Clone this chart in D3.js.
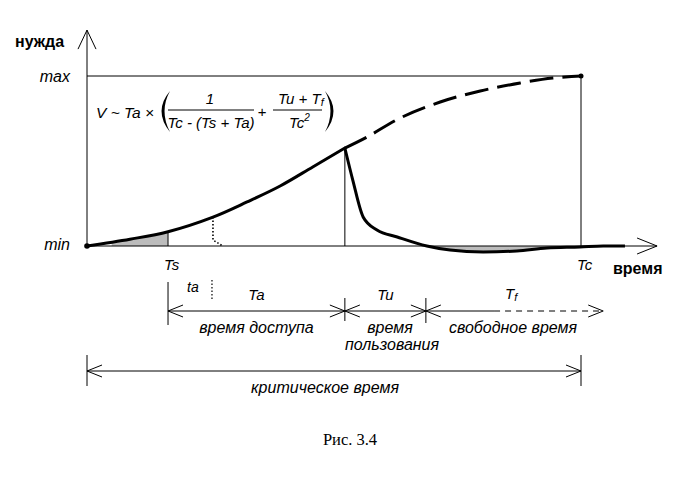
<!DOCTYPE html>
<html><head><meta charset="utf-8">
<script src="https://cdn.jsdelivr.net/npm/d3@7"></script>
<style>body{margin:0;background:#fff} svg{display:block}</style>
</head><body>
<svg id="c" width="700" height="500"></svg>
<script>
// ---- data (time: 0 = start, 100 = Tc ; need: 0 = min, 1 = max) ----
const riseX = [0, 8.7, 16.4, 25.5, 32.4, 39.1, 45.7, 52.2];
const riseY = [0, 0.04, 0.084, 0.17, 0.259, 0.353, 0.465, 0.576];
const dashX = [52.2, 56.7, 63.4, 71.5, 79.6, 87.7, 94.3, 100];
const dashY = [0.576, 0.641, 0.753, 0.847, 0.912, 0.959, 0.988, 1.0];
const dropX = [52.2, 53.8, 55.9, 58.7, 62.8, 68.8, 73.5, 80.2, 87.0, 93.1, 99.8, 104.5, 108.9];
const dropY = [0.576, 0.388, 0.171, 0.094, 0.053, 0, -0.024, -0.035, -0.029, -0.012, -0.006, 0, 0];
const taDotX = [25.5, 25.5, 27.5];
const taDotY = [0.17, 0.035, 0];
const shadeLeft = [5, 16.4];
const shadeRight = [68.8, 99.8];
const axisEnd = [115.4, 1.27];
// phase boundaries
const Ts = 16.4, taMark = 25.3, TaEnd = 52.2, TuEnd = 68.6, Tc = 100, TfSolidEnd = 82.4, TfEnd = 104.5;
const yLevelLabels = ["min", "max"];

const svg = d3.select("#c");
const x = d3.scaleLinear().domain([0, 100]).range([87, 581]);
const y = d3.scaleLinear().domain([0, 1]).range([246, 76]);
const sans = "'Liberation Sans', Arial, sans-serif";
const ink = "#000";

function arrowHead(tx, ty, dir, back, half) {
  let pts;
  if (dir === "left") pts = [[tx + back, ty - half], [tx, ty], [tx + back, ty + half]];
  else if (dir === "right") pts = [[tx - back, ty - half], [tx, ty], [tx - back, ty + half]];
  else pts = [[tx - half, ty + back], [tx, ty], [tx + half, ty + back]];
  svg.append("polyline").attr("points", pts.map(p => p.join(",")).join(" "))
    .attr("fill", "none").attr("stroke", ink).attr("stroke-width", 1);
}
function line(x1, y1, x2, y2, w, dash) {
  const l = svg.append("line").attr("x1", x1).attr("y1", y1).attr("x2", x2).attr("y2", y2)
    .attr("stroke", ink).attr("stroke-width", w || 1);
  if (dash) l.attr("stroke-dasharray", dash);
  return l;
}
function text(t, tx, ty, opts) {
  opts = opts || {};
  return svg.append("text").attr("x", tx).attr("y", ty).text(t)
    .attr("font-family", opts.family || sans)
    .attr("font-size", opts.size || 16)
    .attr("font-style", opts.italic === false ? "normal" : "italic")
    .attr("font-weight", opts.bold ? "bold" : "normal")
    .attr("text-anchor", opts.anchor || "start")
    .attr("fill", ink);
}

// ---- shading ----
const defs = svg.append("defs");
defs.append("clipPath").attr("id", "clipL").append("rect")
  .attr("x", x(shadeLeft[0])).attr("width", x(shadeLeft[1]) - x(shadeLeft[0])).attr("y", 0).attr("height", 500);
defs.append("clipPath").attr("id", "clipR").append("rect")
  .attr("x", x(shadeRight[0])).attr("width", x(shadeRight[1]) - x(shadeRight[0])).attr("y", 0).attr("height", 500);
const areaSmooth = d3.area().x(d => x(d[0])).y0(y(0)).y1(d => y(d[1])).curve(d3.curveCatmullRom);
const areaMono = d3.area().x(d => x(d[0])).y0(y(0)).y1(d => y(d[1])).curve(d3.curveMonotoneX);
svg.append("path").datum(d3.zip(riseX, riseY)).attr("d", areaSmooth).attr("fill", "#bcbcbc").attr("clip-path", "url(#clipL)");
svg.append("path").datum(d3.zip(dropX, dropY)).attr("d", areaMono).attr("fill", "#bcbcbc").attr("clip-path", "url(#clipR)");

// ---- axes ----
line(x(0), y(0), x(axisEnd[0]), y(0));
arrowHead(x(axisEnd[0]), y(0), "right", 20, 8);
line(x(0), y(0), x(0), y(axisEnd[1]));
arrowHead(x(0), y(axisEnd[1]), "up", 19, 9);
line(x(0), y(1), x(Tc), y(1));
line(x(Tc), y(1), x(Tc), y(0));

// ---- guide lines ----
line(x(riseX[2]), y(riseY[2]), x(riseX[2]), y(0));
line(x(TaEnd), y(riseY[riseY.length - 1]), x(TaEnd), y(0));
svg.append("path").datum(d3.zip(taDotX, taDotY))
  .attr("d", d3.line().x(d => x(d[0])).y(d => y(d[1])))
  .attr("fill", "none").attr("stroke", ink).attr("stroke-width", 1.6).attr("stroke-dasharray", "1.5,2");

// ---- curves ----
const smoothGen = d3.line().x(d => x(d[0])).y(d => y(d[1])).curve(d3.curveCatmullRom);
const monoGen = d3.line().x(d => x(d[0])).y(d => y(d[1])).curve(d3.curveMonotoneX);
svg.append("path").datum(d3.zip(riseX, riseY)).attr("d", smoothGen)
  .attr("fill", "none").attr("stroke", ink).attr("stroke-width", 3).attr("stroke-linecap", "round");
svg.append("path").datum(d3.zip(dashX, dashY)).attr("d", smoothGen)
  .attr("fill", "none").attr("stroke", ink).attr("stroke-width", 3).attr("stroke-dasharray", "24,9");
svg.append("path").datum(d3.zip(dropX, dropY)).attr("d", monoGen)
  .attr("fill", "none").attr("stroke", ink).attr("stroke-width", 3).attr("stroke-linejoin", "round");
svg.append("circle").attr("cx", x(0)).attr("cy", y(0)).attr("r", 2.8).attr("fill", ink);
svg.append("circle").attr("cx", x(Tc)).attr("cy", y(1)).attr("r", 2.5).attr("fill", ink);

// ---- axis labels ----
text("нужда", 15, 47, { bold: true, italic: false, size: 16 });
text("время", 613, 274, { bold: true, italic: false, size: 16 });
text(yLevelLabels[1], 70, 82, { anchor: "end" });
text(yLevelLabels[0], 70, 250, { anchor: "end" });
text("Ts", x(Ts) - 4, 270, { size: 15 });
text("Tc", x(Tc) - 4, 270, { size: 15 });

// ---- formula ----
text("V ~  Ta ×", 96, 118, { size: 15.5 });
// big parentheses
svg.append("path").attr("d", "M170,91 Q153,111 170,132 Q159,111 170,91 Z").attr("fill", ink);
svg.append("path").attr("d", "M325,91 Q342,111 325,132 Q336,111 325,91 Z").attr("fill", ink);
text("1", 210, 104, { anchor: "middle", size: 15 });
line(168, 110, 254, 110);
text("Tc - (Ts + Ta)", 211, 128, { anchor: "middle", size: 15 });
text("+", 262, 117, { anchor: "middle", size: 15 });
const tf = text("Tu + T", 278, 104, { size: 15 });
tf.append("tspan").attr("font-size", 11).attr("dy", 2).text("f");
line(273, 110, 322, 110);
const tc2 = text("Tc", 289, 128, { size: 15 });
tc2.append("tspan").attr("font-size", 10).attr("dy", -7).text("2");

// ---- lower annotations ----
const segY = 311;
line(x(Ts), 282, x(Ts), 325);
line(x(TaEnd), 298, x(TaEnd), 321);
line(x(TuEnd), 298, x(TuEnd), 323);
line(x(Ts), segY, x(TaEnd), segY);
arrowHead(x(Ts), segY, "left", 15, 6);
arrowHead(x(TaEnd), segY, "right", 15, 6);
line(x(TaEnd), segY, x(TuEnd), segY);
arrowHead(x(TaEnd), segY, "left", 15, 6);
arrowHead(x(TuEnd), segY, "right", 15, 6);
line(x(TuEnd), segY, x(TfSolidEnd), segY);
line(x(TfSolidEnd), segY, x(TfEnd), segY, 1, "6,5");
arrowHead(x(TuEnd), segY, "left", 15, 6);
arrowHead(x(TfEnd), segY, "right", 15, 6);
line(x(taMark), 280, x(taMark), 300, 1.2, "1.5,2");
text("ta", 187, 292, { size: 14 });
text("Ta", (x(Ts) + x(TaEnd)) / 2, 300, { anchor: "middle", size: 15 });
text("Tu", (x(TaEnd) + x(TuEnd)) / 2, 300, { anchor: "middle", size: 15 });
const tfl = text("T", 505, 299, { size: 15 });
tfl.append("tspan").attr("font-size", 11).attr("dy", 2).text("f");
text("время доступа", (x(Ts) + x(TaEnd)) / 2, 333, { anchor: "middle" });
text("время", 390, 333, { anchor: "middle" });
text("пользования", 392, 350, { anchor: "middle" });
text("свободное время", 513, 333, { anchor: "middle" });

const critY = 371;
line(x(0), 355, x(0), 386);
line(x(Tc), 355, x(Tc), 386);
line(x(0), critY, x(Tc), critY);
arrowHead(x(0), critY, "left", 15, 6);
arrowHead(x(Tc), critY, "right", 15, 6);
text("критическое время", 325, 393, { anchor: "middle" });

text("Рис. 3.4", 350, 445, { family: "'Liberation Serif', 'DejaVu Serif', serif", italic: false, size: 16.5, anchor: "middle" });
</script>
</body></html>
